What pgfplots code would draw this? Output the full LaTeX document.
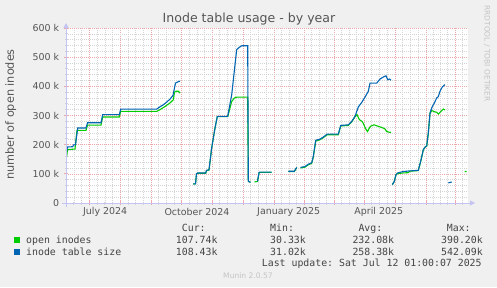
\documentclass[border=0pt]{standalone}
\usepackage{pgfplots}
\pgfplotsset{compat=1.18}
\usepackage{pgfplotstable}
\usepackage{fontspec}
\setmainfont{DejaVu Sans}
\setmonofont{DejaVu Sans Mono}
\usetikzlibrary{arrows.meta}
\definecolor{bgc}{HTML}{F0F0F0}
\definecolor{mgreen}{HTML}{00CC00}
\definecolor{mblue}{HTML}{0066B3}
\definecolor{txt}{HTML}{555555}
\definecolor{legtxt}{HTML}{444444}
\definecolor{axc}{HTML}{C4C4F4}
\definecolor{majg}{HTML}{EBA8A8}
\definecolor{ming}{HTML}{D4D4D4}
\definecolor{faint}{HTML}{C4C4C4}

\pgfplotstableread{
x y
66.7 160
67.5 183
75 185
77 249
86 249
87.5 267
101 267
102.7 295
119.3 295
120.7 314
156.7 314
160 320
165 331
170 343
173.3 354
174.5 380
176 383
178.3 383
180 377
185 nan
193.3 65
195.5 66
196.5 100
197.7 102
205.7 102
206.5 111
209 113
211.7 189
215 257
217.3 296
227.7 296
231.7 348
234.3 360
236.7 363
247.7 363
248.3 74
250.5 71
252 nan
254.5 72
257.5 74
259 103
260 105
271.7 105
280 nan
288.3 108
294.3 108
296.7 121
298 nan
300.5 120
305 123
308.3 131
311.7 136
313.3 157
315.7 212
320 217
323.3 224
327 234
338.3 234
340.7 264
348.3 266
351.7 278
355 296
357 303
359.3 286
362 280
363.3 273
365.7 254
367.5 245
369.3 257
370.5 263
374 268
378.3 263
383.3 257
385 254
386.7 245
390 242
391 243
392 nan
392.3 63
394.3 74
396 97
397.7 101
403.3 103
408 104
410 109
418.3 111
421 147
423.3 182
425 191
426.7 195
428.3 239
430 307
431.7 317
434.3 313
436.7 311
438.3 305
441 314
443.3 322
445 319
450 nan
464.5 108
466.5 108
}\greendata

\pgfplotstableread{
x y
66.7 178
67.5 192
72.7 193
73.5 199
75.5 200
77.7 257
86 257
87.5 275
101 275
102.7 303
119.3 303
120.7 322
156.7 322
160 330
163 336
166 344
170 356
173 369
174.5 395
175.5 411
178.3 416
180 418
185 nan
193.3 65
195.5 66
196.5 100
197.7 103
205.7 103
206.5 112
209 114
211.7 189
215 257
217.3 297
227.7 297
231.7 371
235 474
236.7 526
239 533
241.7 539
247.7 539
248.3 74
250.5 71
252 nan
257.5 74
259 104
260 106
271.7 106
280 nan
288.3 109
294.3 109
296.7 122
298 nan
300.5 122
305 125
308.3 133
311.7 138
313.3 160
315.7 215
320 219
323.3 226
327 236
338.3 236
340.7 266
348.3 268
351.7 280
355 297
358.3 329
361.7 345
365 363
368.3 383
370 411
376.7 411
380 425
383.3 432
386 436
387.7 423
389.3 425
391 421
392 nan
392.3 63
394.3 74
396 97
397.7 103
403.3 108
410 110
418.3 112
421 148
423.3 183
425 192
426.7 196
428.3 240
430 308
431.7 326
434.3 343
436.7 360
438.3 365
440 383
442.3 398
445 406
446 nan
448.3 69
451.7 72
}\bluedata

\begin{document}
\begin{tikzpicture}[x=1bp,y=1bp]
\fill[bgc] (0,0) rectangle (497,287);
\fill[white] (66,84) rectangle (468,259);
\begin{axis}[
  at={(66bp,84bp)}, anchor=south west,
  scale only axis, width=402bp, height=175bp,
  xmin=66, xmax=468, ymin=0, ymax=600,
  axis line style={draw=none},
  tick pos=left, tick align=center,
  xtick={89.3,120.3,151,181.7,212,243,274,304,334,364,395,426,455},
  xticklabel={\relax},
  minor xtick={73.8,81.55,97.05,104.8,112.55,127.98,135.65,143.33,158.68,166.35,174.03,189.28,196.85,204.43,219.75,227.5,235.25,250.75,258.5,266.25,281.5,289,296.5,311.5,319,326.5,341.5,349,356.5,371.75,379.5,387.25,402.75,410.5,418.25,433.25,440.5,447.75,462.5},
  ytick={0,100,200,300,400,500,600},
  yticklabels={0\hspace{6bp},100 k,200 k,300 k,400 k,500 k,600 k},
  minor ytick={20,40,60,80,120,140,160,180,220,240,260,280,320,340,360,380,420,440,460,480,520,540,560,580},
  /pgf/number format/assume math mode=true,
  yticklabel style={font=\fontsize{9.5}{11}\selectfont, text=txt, anchor=east, inner sep=0pt, xshift=-4.7bp},
  grid=both,
  major grid style={majg, dash pattern=on 1bp off 1bp, line width=0.6bp},
  minor grid style={ming, dash pattern=on 1bp off 1bp, line width=0.6bp},
  major tick length=4bp, minor tick length=3bp,
  major tick style={majg, line width=0.7bp},
  minor tick style={ming, line width=0.7bp},
  unbounded coords=jump,
]
\addplot[mgreen, line width=1.1bp] table[x=x,y=y] {\greendata};
\addplot[mblue, line width=1.1bp] table[x=x,y=y] {\bluedata};
\end{axis}
% axis lines with arrows
\draw[axc, line width=0.8bp, -{Triangle[length=5bp,width=5bp]}] (62,84) -- (475,84);
\draw[axc, line width=0.8bp, -{Triangle[length=5bp,width=5bp]}] (66,80) -- (66,264);
% title and labels
\node[text=txt, font=\fontsize{12.6}{14}\selectfont] at (249,267.5) {Inode table usage - by year};
\node[text=txt, font=\fontsize{11.3}{13}\selectfont, rotate=90] at (10.7,172.5) {number of open inodes};
\node[text=faint, font=\fontsize{7.5}{9}\selectfont, rotate=-90] at (487,233.5) {RRDTOOL / TOBI OETIKER};
\begin{scope}[every node/.style={text=txt, font=\fontsize{9.5}{11}\selectfont}]
\node at (105.2,74.7) {July 2024};
\node at (197,74.7) {October 2024};
\node at (288.7,74.7) {January 2025};
\node at (378.8,74.7) {April 2025};
\end{scope}
% legend
\begin{scope}[every node/.style={text=legtxt, font=\ttfamily\fontsize{9.9}{11}\selectfont, anchor=base west, inner sep=0pt}]
\node at (181.7,55.7) {Cur:};
\node at (270,55.7) {Min:};
\node at (358.3,55.7) {Avg:};
\node at (446.7,55.7) {Max:};
\fill[mgreen] (14,44) rectangle (20,50);
\fill[mblue] (14,32.3) rectangle (20,38.3);
\node at (26,43.6) {open inodes};
\node at (175.7,43.6) {107.74k};
\node at (270,43.6) {30.33k};
\node at (352.3,43.6) {232.08k};
\node at (441,43.6) {390.20k};
\node at (26,31.9) {inode table size};
\node at (175.7,31.9) {108.43k};
\node at (270,31.9) {31.02k};
\node at (352.3,31.9) {258.38k};
\node at (441,31.9) {542.09k};
\node at (261.7,20.2) {Last update: Sat Jul 12 01:00:07 2025};
\end{scope}
\node[text=faint, font=\fontsize{7.6}{9}\selectfont] at (248,11) {Munin 2.0.57};
\end{tikzpicture}
\end{document}
